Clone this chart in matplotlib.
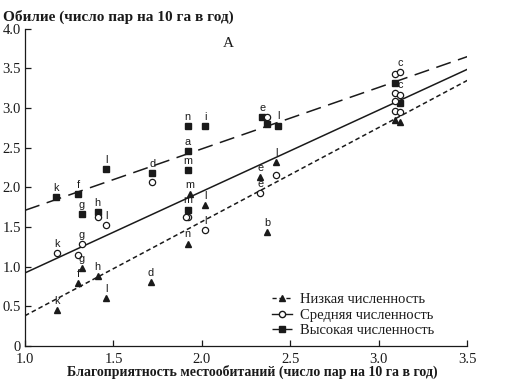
import numpy as np
import matplotlib.pyplot as plt
from matplotlib.lines import Line2D

# data ---------------------------------------------------------------------------------

# high density (filled squares)
high_x = [1.175, 1.30, 1.32, 1.41, 1.46, 1.72, 1.92, 2.02, 1.92, 1.92, 1.92, 2.34, 2.37, 2.43, 3.09, 3.12]
high_y = [1.88, 1.91, 1.66, 1.69, 2.23, 2.18, 2.77, 2.77, 2.46, 2.22, 1.72, 2.89, 2.80, 2.78, 3.32, 3.07]
high_lbl = ["k", "f", "g", "h", "l", "d", "n", "i", "a", "m", "m", "e", "", "l", "", ""]

# medium density (open circles)
mid_x = [1.18, 1.32, 1.30, 1.41, 1.46, 1.72, 1.92, 1.91, 2.02, 2.33, 2.37, 2.42, 3.09, 3.12, 3.09, 3.12, 3.09, 3.09, 3.12]
mid_y = [1.17, 1.28, 1.15, 1.62, 1.52, 2.07, 1.63, 1.62, 1.46, 1.93, 2.89, 2.16, 3.43, 3.45, 3.19, 3.17, 3.09, 2.96, 2.95]
mid_lbl = ["k", "g", "", "", "l", "", "", "", "l", "e", "", "", "", "c", "", "c", "", "", ""]

# low density (filled triangles)
low_x = [1.18, 1.30, 1.32, 1.41, 1.46, 1.71, 1.93, 2.02, 1.92, 2.33, 2.37, 2.42, 3.09, 3.12]
low_y = [0.45, 0.79, 0.98, 0.88, 0.60, 0.80, 1.91, 1.78, 1.29, 2.13, 1.44, 2.32, 2.85, 2.83]
low_lbl = ["k", "f", "g", "h", "l", "d", "m", "l", "n", "e", "b", "l", "", ""]

# regression lines (ends at x = 1.0 and x = 3.5)
line_x = [1.0, 3.5]
high_line = [1.71, 3.65]
mid_line = [0.92, 3.49]
low_line = [0.38, 3.35]

y_ticks = [0, 0.5, 1.0, 1.5, 2.0, 2.5, 3.0, 3.5, 4.0]
y_tick_labels = ["0", "0.5", "1.0", "1.5", "2.0", "2.5", "3.0", "3.5", "4.0"]
x_ticks = [1.0, 1.5, 2.0, 2.5, 3.0, 3.5]
x_tick_labels = ["1.0", "1.5", "2.0", "2.5", "3.0", "3.5"]

# plot ---------------------------------------------------------------------------------

serif = "Liberation Serif"
ink = "#1a1a1a"

fig = plt.figure(figsize=(5.05, 3.8), dpi=100)
ax = fig.add_axes([0.0495, 0.09, 0.876, 0.834])

ax.plot(line_x, high_line, color=ink, lw=1.1, dashes=(10, 5))
ax.plot(line_x, mid_line, color=ink, lw=1.1)
ax.plot(line_x, low_line, color=ink, lw=1.1, dashes=(3, 2))

ax.plot(high_x, high_y, "s", color=ink, ms=5, ls="none")
ax.plot(mid_x, mid_y, "o", mfc="white", mec=ink, mew=0.9, ms=4.5, ls="none")
ax.plot(low_x, low_y, "^", color=ink, ms=3.8, ls="none")

for xs, ys, lbls in [(high_x, high_y, high_lbl), (mid_x, mid_y, mid_lbl), (low_x, low_y, low_lbl)]:
    for x, y, t in zip(xs, ys, lbls):
        if t:
            ax.annotate(t, (x, y), xytext=(0, 3), textcoords="offset points",
                        ha="center", va="bottom", fontsize=7.8, color=ink,
                        family="Liberation Sans")

ax.text(2.15, 3.82, "A", fontsize=11, family=serif, color=ink, ha="center", va="center")

ax.set_xlim(1.0, 3.5)
ax.set_ylim(0, 4.0)
ax.set_xticks(x_ticks)
ax.set_xticklabels(x_tick_labels, family=serif, fontsize=10.5, color=ink)
ax.set_yticks(y_ticks)
ax.set_yticklabels(y_tick_labels, family=serif, fontsize=10.5, color=ink)
ax.tick_params(direction="in", length=4, width=0.9, color=ink, pad=3)
ax.tick_params(axis="x", pad=5)
for side in ["top", "right"]:
    ax.spines[side].set_visible(False)
for side in ["left", "bottom"]:
    ax.spines[side].set_color(ink)
    ax.spines[side].set_linewidth(0.9)

handles = [
    Line2D([], [], color=ink, lw=1.0, dashes=(3, 2), marker="^", ms=3.8),
    Line2D([], [], color=ink, lw=1.0, marker="o", mfc="white", mec=ink, ms=4.5),
    Line2D([], [], color=ink, lw=1.0, dashes=(6, 3), marker="s", ms=5),
]
ax.legend(handles, ["Низкая численность", "Средняя численность", "Высокая численность"],
          loc="upper left", bbox_to_anchor=(0.545, 0.185), frameon=False,
          prop={"family": serif, "size": 10.5}, handlelength=1.4, handletextpad=0.5,
          labelspacing=0.15, borderaxespad=0, labelcolor=ink)

fig.text(0.006, 0.975, "Обилие (число пар на 10 га в год)", family=serif,
         fontsize=11, fontweight="bold", color=ink, ha="left", va="top")
fig.text(0.5, 0.003, "Благоприятность местообитаний (число пар на 10 га в год)", family=serif,
         fontsize=10, fontweight="bold", color=ink, ha="center", va="bottom")

fig.savefig("out.png", dpi=100)
